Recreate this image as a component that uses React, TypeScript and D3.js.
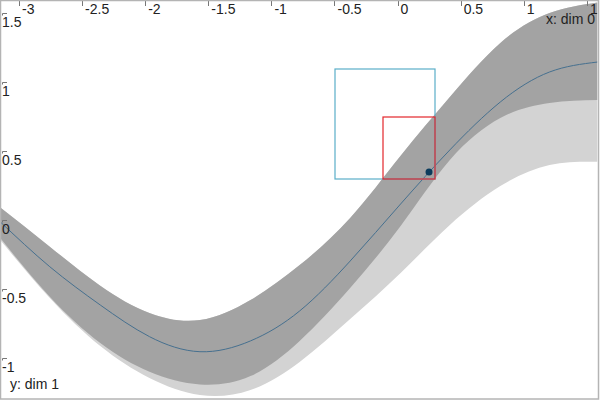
import React from "react";
import * as d3 from "d3";

// ---- data ----
const X = [-3.16, -2.76, -2.36, -1.97, -1.57, -1.17, -0.78, -0.38, 0.02, 0.41, 0.81, 1.2, 1.58];
const MEAN = [-0.002, -0.333, -0.61, -0.839, -0.948, -0.87, -0.653, -0.292, 0.121, 0.512, 0.859, 1.076, 1.148];
const UPPER = [0.101, -0.188, -0.47, -0.668, -0.719, -0.574, -0.321, 0.019, 0.47, 0.895, 1.286, 1.503, 1.579];
const LOWER = [-0.118, -0.55, -0.885, -1.093, -1.185, -1.124, -0.87, -0.487, -0.038, 0.439, 0.743, 0.852, 0.873];
const LOWER_WIDE = [-0.132, -0.559, -0.907, -1.138, -1.261, -1.225, -1.022, -0.712, -0.378, -0.031, 0.251, 0.403, 0.427];

const X_TICKS = [-3, -2.5, -2, -1.5, -1, -0.5, 0, 0.5, 1, 1.5];
const Y_TICKS = [-1, -0.5, 0, 0.5, 1, 1.5];

const POINT = { x: 0.245, y: 0.352 };
const OUTER_BOX = { x0: -0.5, x1: 0.295, y0: 0.3, y1: 1.095 };
const INNER_BOX = { x0: -0.117, x1: 0.295, y0: 0.3, y1: 0.748 };

const X_LABEL = "x: dim 0";
const Y_LABEL = "y: dim 1";

const W = 600;
const H = 400;
const FONT = "'Liberation Sans', Arial, sans-serif";

const crisp = (v: number) => Math.floor(v) + 0.5;

export default function App() {
  const x = d3.scaleLinear().domain([-3.1545, 1.584]).range([0, 598]);
  const y = d3.scaleLinear().domain([-1, 1.5]).range([358.9, 13.4]);

  const idx = X.map((_, i) => i);
  const wideArea = d3
    .area<number>()
    .x((i) => x(X[i]))
    .y0((i) => y(LOWER_WIDE[i]))
    .y1((i) => y(UPPER[i]))
    .curve(d3.curveNatural)(idx) as string;
  const darkArea = d3
    .area<number>()
    .x((i) => x(X[i]))
    .y0((i) => y(LOWER[i]))
    .y1((i) => y(UPPER[i]))
    .curve(d3.curveNatural)(idx) as string;
  const meanLine = d3
    .line<number>()
    .x((i) => x(X[i]))
    .y((i) => y(MEAN[i]))
    .curve(d3.curveNatural)(idx) as string;

  const box = (b: { x0: number; x1: number; y0: number; y1: number }) => {
    const l = Math.round(x(b.x0));
    const r = Math.round(x(b.x1));
    const t = Math.round(y(b.y1));
    const bt = Math.round(y(b.y0));
    return { x: l, y: t, width: r - l, height: bt - t };
  };
  const ob = box(OUTER_BOX);
  const ib = box(INNER_BOX);

  return (
    <svg
      width={W}
      height={H}
      style={{ position: "absolute", left: 0, top: 0, display: "block", background: "#fff" }}
    >
      <defs>
        <clipPath id="plotclip">
          <rect x={0} y={0} width={597.5} height={398} />
        </clipPath>
      </defs>
      <g clipPath="url(#plotclip)">
        <path d={wideArea} fill="#d3d3d3" />
        <path d={darkArea} fill="#a3a3a3" />
        <path d={meanLine} fill="none" stroke="#46708f" strokeWidth={1} />
        <rect {...ob} fill="none" stroke="#5aaec8" strokeWidth={1.2} />
        <rect {...ib} fill="none" stroke="#e3262b" strokeWidth={1.2} />
        <circle cx={x(POINT.x)} cy={y(POINT.y)} r={3.5} fill="#0b3b5c" />

        {X_TICKS.map((t) => (
          <g key={"x" + t}>
            <line x1={crisp(x(t))} x2={crisp(x(t))} y1={1} y2={6} stroke="#777" strokeWidth={1} />
            <text x={x(t) + 2.5} y={13.5} fontFamily={FONT} fontSize={14} fill="#222">
              {String(t)}
            </text>
          </g>
        ))}
        {Y_TICKS.map((t) => (
          <g key={"y" + t}>
            <path
              d={`M7,${crisp(y(t))}H2.5V${crisp(y(t)) + 2}`}
              fill="none"
              stroke="#777"
              strokeWidth={1}
            />
            <text x={2} y={y(t) + 13.5} fontFamily={FONT} fontSize={14} fill="#222">
              {String(t)}
            </text>
          </g>
        ))}
        <text x={595} y={24} textAnchor="end" fontFamily={FONT} fontSize={14} fill="#222">
          {X_LABEL}
        </text>
        <text x={10} y={389} fontFamily={FONT} fontSize={14} fill="#222">
          {Y_LABEL}
        </text>
      </g>
      <rect x={0.5} y={0.5} width={598} height={398.5} fill="none" stroke="#b4b4b4" strokeWidth={1.5} />
    </svg>
  );
}
